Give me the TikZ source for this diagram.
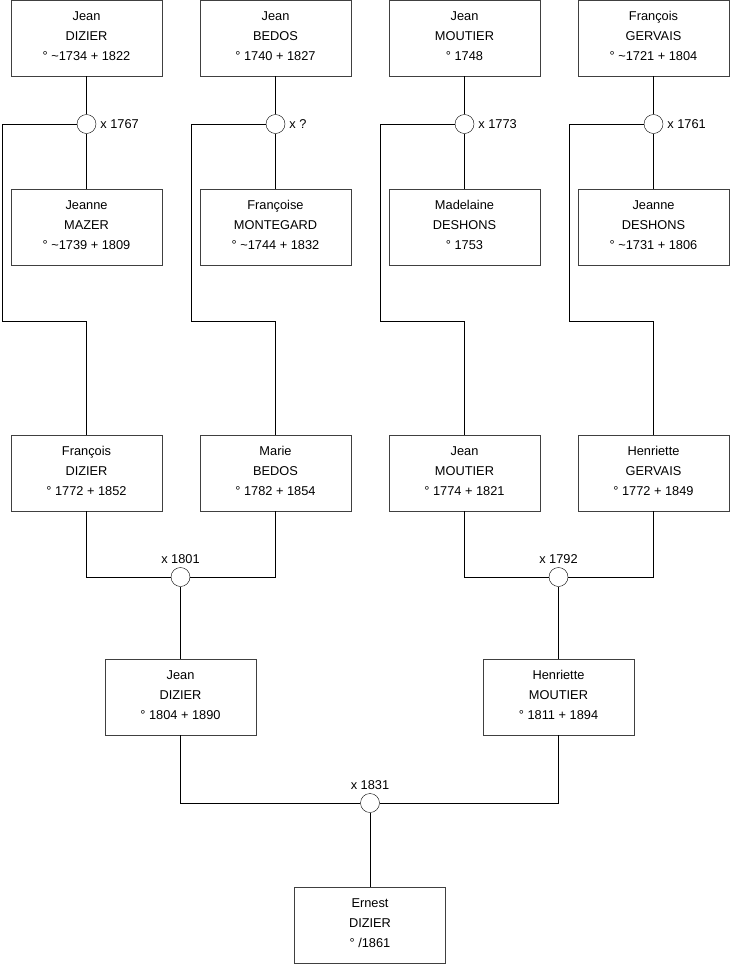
\documentclass[tikz,border=0pt]{standalone}
\usepackage{fontspec}
\setmainfont{Liberation Sans}
\usetikzlibrary{positioning}

\begin{document}
\begin{tikzpicture}[
    x=1pt, y=-1pt,
    node distance=2pt and 3pt,
    person/.style={draw=black!75, minimum width=151pt, minimum height=76pt,
                   align=center, inner sep=0pt, text depth=4pt,
                   font=\fontsize{12.8}{20}\selectfont},
    union/.style={draw, circle, minimum size=19pt, inner sep=0pt},
    date/.style={inner sep=1pt, font=\fontsize{12.8}{14}\selectfont},
    link/.style={line width=0.8pt}
]
    \useasboundingbox (0,0) rectangle (740,975);

    % top generation
    \node[person] (jdizierA)  at (86.5,38)  {Jean\\DIZIER\\° \textasciitilde1734 + 1822};
    \node[person] (jbedosA)   at (275.5,38) {Jean\\BEDOS\\° 1740 + 1827};
    \node[person] (jmoutierA) at (464.5,38) {Jean\\MOUTIER\\° 1748};
    \node[person] (fgervaisA) at (653.5,38) {François\\GERVAIS\\° \textasciitilde1721 + 1804};

    \node[union] (u1767) at (86.5,124)  {};
    \node[union] (uBedos) at (275.5,124) {};
    \node[union] (u1773) at (464.5,124) {};
    \node[union] (u1761) at (653.5,124) {};
    \node[date, right=of u1767]  (l1767)  {x 1767};
    \node[date, right=of uBedos] (lBedos) {x ?};
    \node[date, right=of u1773]  (l1773)  {x 1773};
    \node[date, right=of u1761]  (l1761)  {x 1761};

    \node[person] (jmazer)     at (86.5,227)  {Jeanne\\MAZER\\° \textasciitilde1739 + 1809};
    \node[person] (fmontegard) at (275.5,227) {Françoise\\MONTEGARD\\° \textasciitilde1744 + 1832};
    \node[person] (mdeshons)   at (464.5,227) {Madelaine\\DESHONS\\° 1753};
    \node[person] (jdeshons)   at (653.5,227) {Jeanne\\DESHONS\\° \textasciitilde1731 + 1806};

    % children
    \node[person] (fdizier)   at (86.5,473)  {François\\DIZIER\\° 1772 + 1852};
    \node[person] (mbedos)    at (275.5,473) {Marie\\BEDOS\\° 1782 + 1854};
    \node[person] (jmoutierB) at (464.5,473) {Jean\\MOUTIER\\° 1774 + 1821};
    \node[person] (hgervais)  at (653.5,473) {Henriette\\GERVAIS\\° 1772 + 1849};

    \node[union] (u1801) at (180.5,577) {};
    \node[union] (u1792) at (558.5,577) {};
    \node[date, above=of u1801] (l1801) {x 1801};
    \node[date, above=of u1792] (l1792) {x 1792};

    \node[person] (jdizierB)  at (180.5,697) {Jean\\DIZIER\\° 1804 + 1890};
    \node[person] (hmoutier)  at (558.5,697) {Henriette\\MOUTIER\\° 1811 + 1894};

    \node[union] (u1831) at (370,803) {};
    \node[date, above=of u1831] (l1831) {x 1831};

    \node[person] (ernest) at (370,925) {Ernest\\DIZIER\\° /1861};

    % turning points of the long links
    \coordinate (wA) at (2,321);
    \coordinate (wB) at (191,321);
    \coordinate (wC) at (380,321);
    \coordinate (wD) at (569,321);

    \draw[link] (jdizierA) -- (u1767) -- (jmazer);
    \draw[link] (jbedosA) -- (uBedos) -- (fmontegard);
    \draw[link] (jmoutierA) -- (u1773) -- (mdeshons);
    \draw[link] (fgervaisA) -- (u1761) -- (jdeshons);

    \draw[link] (u1767.west) -| (wA) -| (fdizier.north);
    \draw[link] (uBedos.west) -| (wB) -| (mbedos.north);
    \draw[link] (u1773.west) -| (wC) -| (jmoutierB.north);
    \draw[link] (u1761.west) -| (wD) -| (hgervais.north);

    \draw[link] (fdizier.south) |- (u1801.west);
    \draw[link] (mbedos.south) |- (u1801.east);
    \draw[link] (jmoutierB.south) |- (u1792.west);
    \draw[link] (hgervais.south) |- (u1792.east);
    \draw[link] (u1801) -- (jdizierB);
    \draw[link] (u1792) -- (hmoutier);

    \draw[link] (jdizierB.south) |- (u1831.west);
    \draw[link] (hmoutier.south) |- (u1831.east);
    \draw[link] (u1831) -- (ernest);
\end{tikzpicture}
\end{document}
